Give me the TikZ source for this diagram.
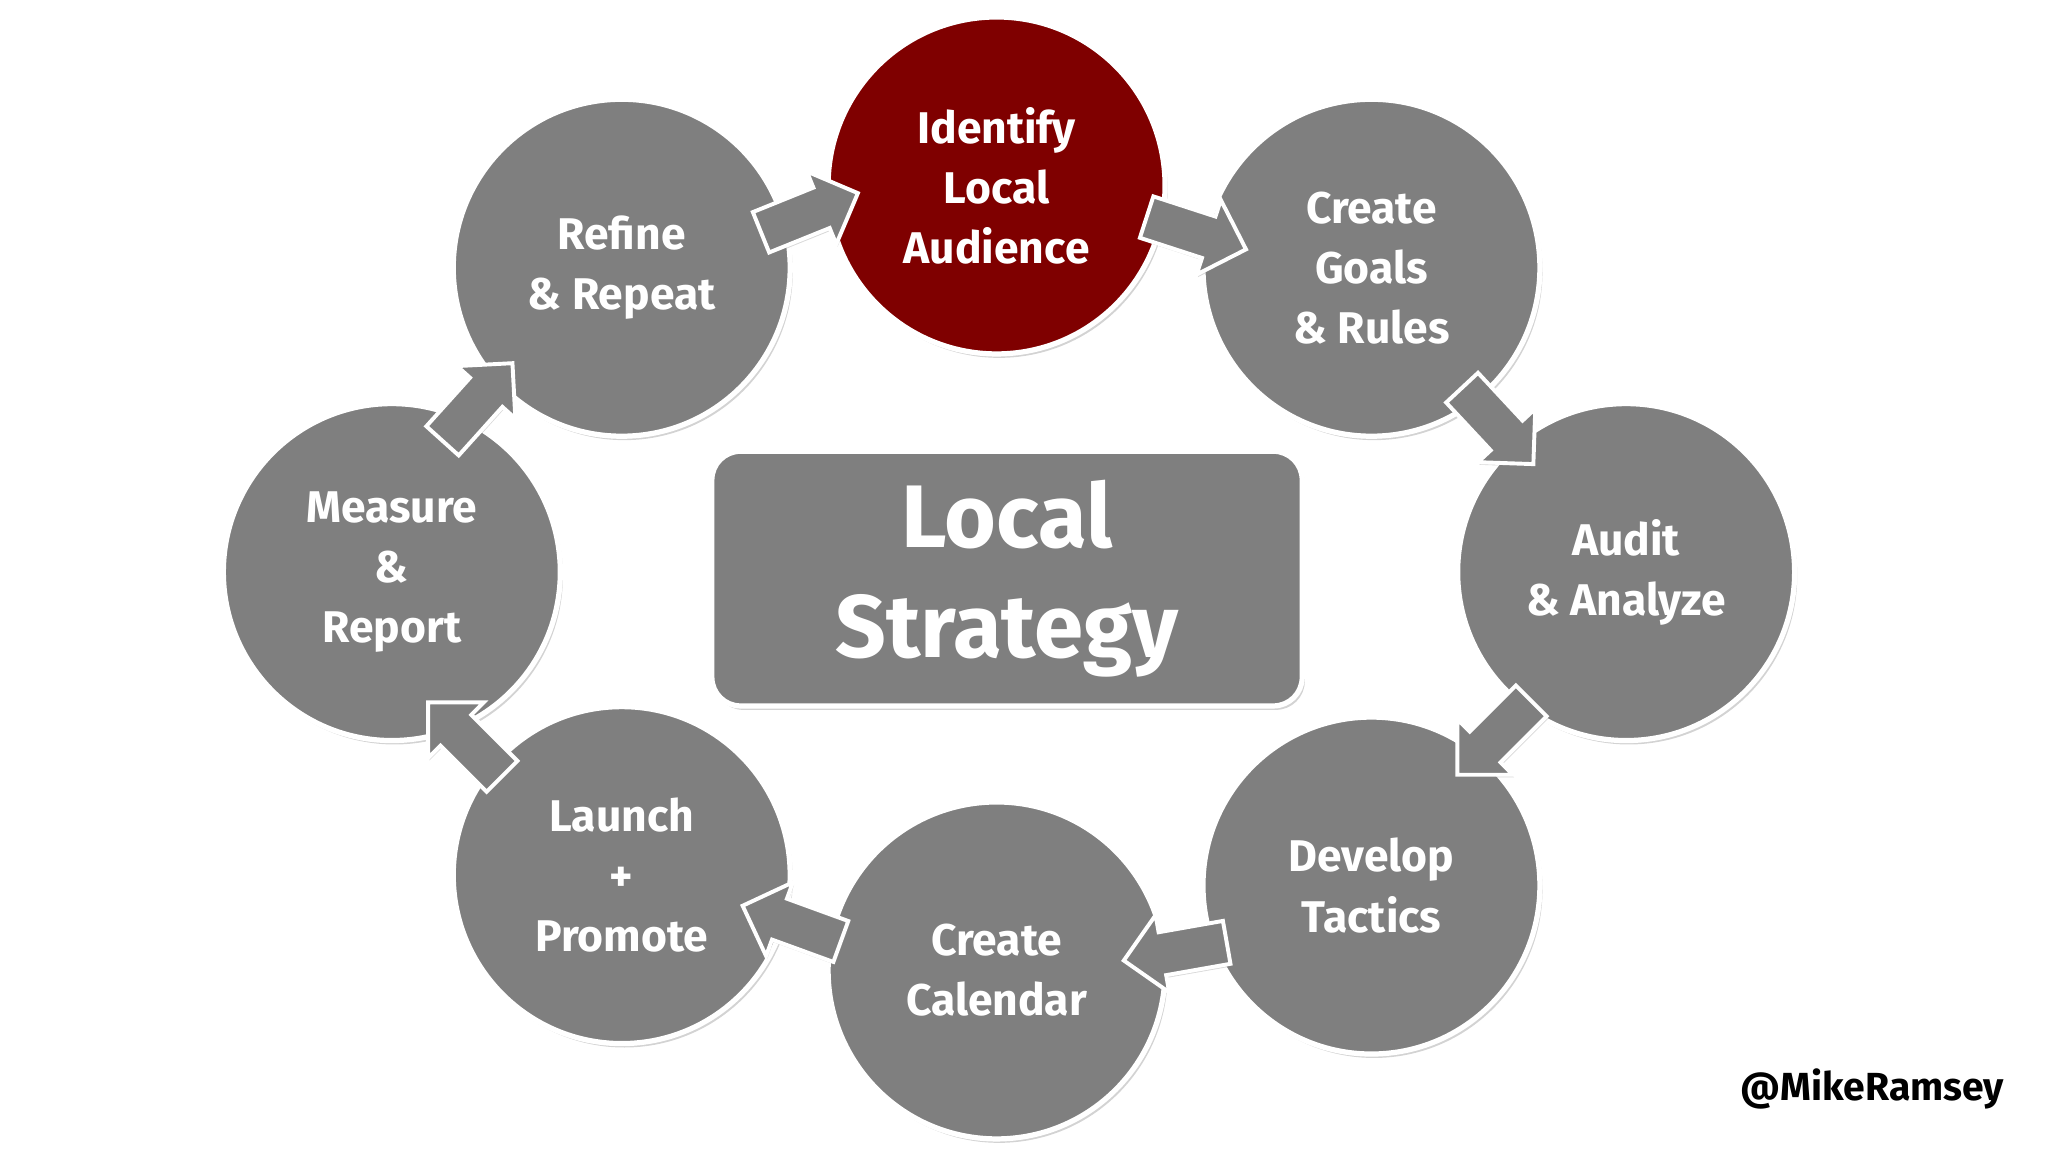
\documentclass[tikz,border=0pt]{standalone}
\usepackage{fontspec}
\setmainfont{Fira Sans}
\usetikzlibrary{shapes.arrows,shadows}
\definecolor{cgray}{HTML}{7F7F7F}
\definecolor{cred}{HTML}{7F0000}
\begin{document}
\begin{tikzpicture}[x=1pt,y=1pt,
  stage/.style={circle,minimum size=258pt,fill=cgray,draw=white,line width=4pt,
    drop shadow={shadow xshift=2pt,shadow yshift=-3pt,opacity=0.35},
    text=white,align=center,font=\fontsize{34}{46}\selectfont\bfseries},
  barrow/.style={single arrow,fill=cgray,draw=white,line width=3pt,minimum height=80pt,
    minimum width=60pt,single arrow head extend=10pt,inner sep=11pt,
    drop shadow={shadow xshift=1pt,shadow yshift=-2pt,opacity=0.3}}]
\useasboundingbox (0,0) rectangle (1568,882);
\node[stage] (ref) at (476,677) {Refine\\\& Repeat};
\node[stage,fill=cred] (ida) at (763,740) {Identify\\Local\\Audience};
\node[stage] (goal) at (1050,677) {Create\\Goals\\\& Rules};
\node[stage] (aud) at (1245,444) {Audit\\\& Analyze};
\node[stage] (dev) at (1050,204) {Develop\\Tactics};
\node[stage] (cal) at (763,139) {Create\\Calendar};
\node[stage] (lau) at (476,212) {Launch\\+\\Promote};
\node[stage] (mea) at (300,444) {Measure\\\&\\Report};
\node[rounded corners=22pt,fill=cgray,draw=white,line width=4pt,minimum width=452pt,minimum height=195pt,
  drop shadow={shadow xshift=2pt,shadow yshift=-3pt,opacity=0.35},
  text=white,align=center,font=\fontsize{68}{84}\selectfont\bfseries] (ctr) at (771,439) {Local\\Strategy};
\node[barrow,rotate=22] (a1) at (612,716) {};
\node[barrow,rotate=-18] (a2) at (908,706) {};
\node[barrow,rotate=-47] (a3) at (1141,562) {};
\node[barrow,rotate=-135] (a4) at (1150,323) {};
\node[barrow,rotate=190] (a5) at (908,155) {};
\node[barrow,rotate=160] (a6) at (614,172) {};
\node[barrow,rotate=135] (a7) at (362,310) {};
\node[barrow,rotate=48] (a8) at (360,568) {};
\node[font=\fontsize{30}{36}\selectfont\bfseries,anchor=east] (tag) at (1538,48) {@MikeRamsey};
\end{tikzpicture}
\end{document}
